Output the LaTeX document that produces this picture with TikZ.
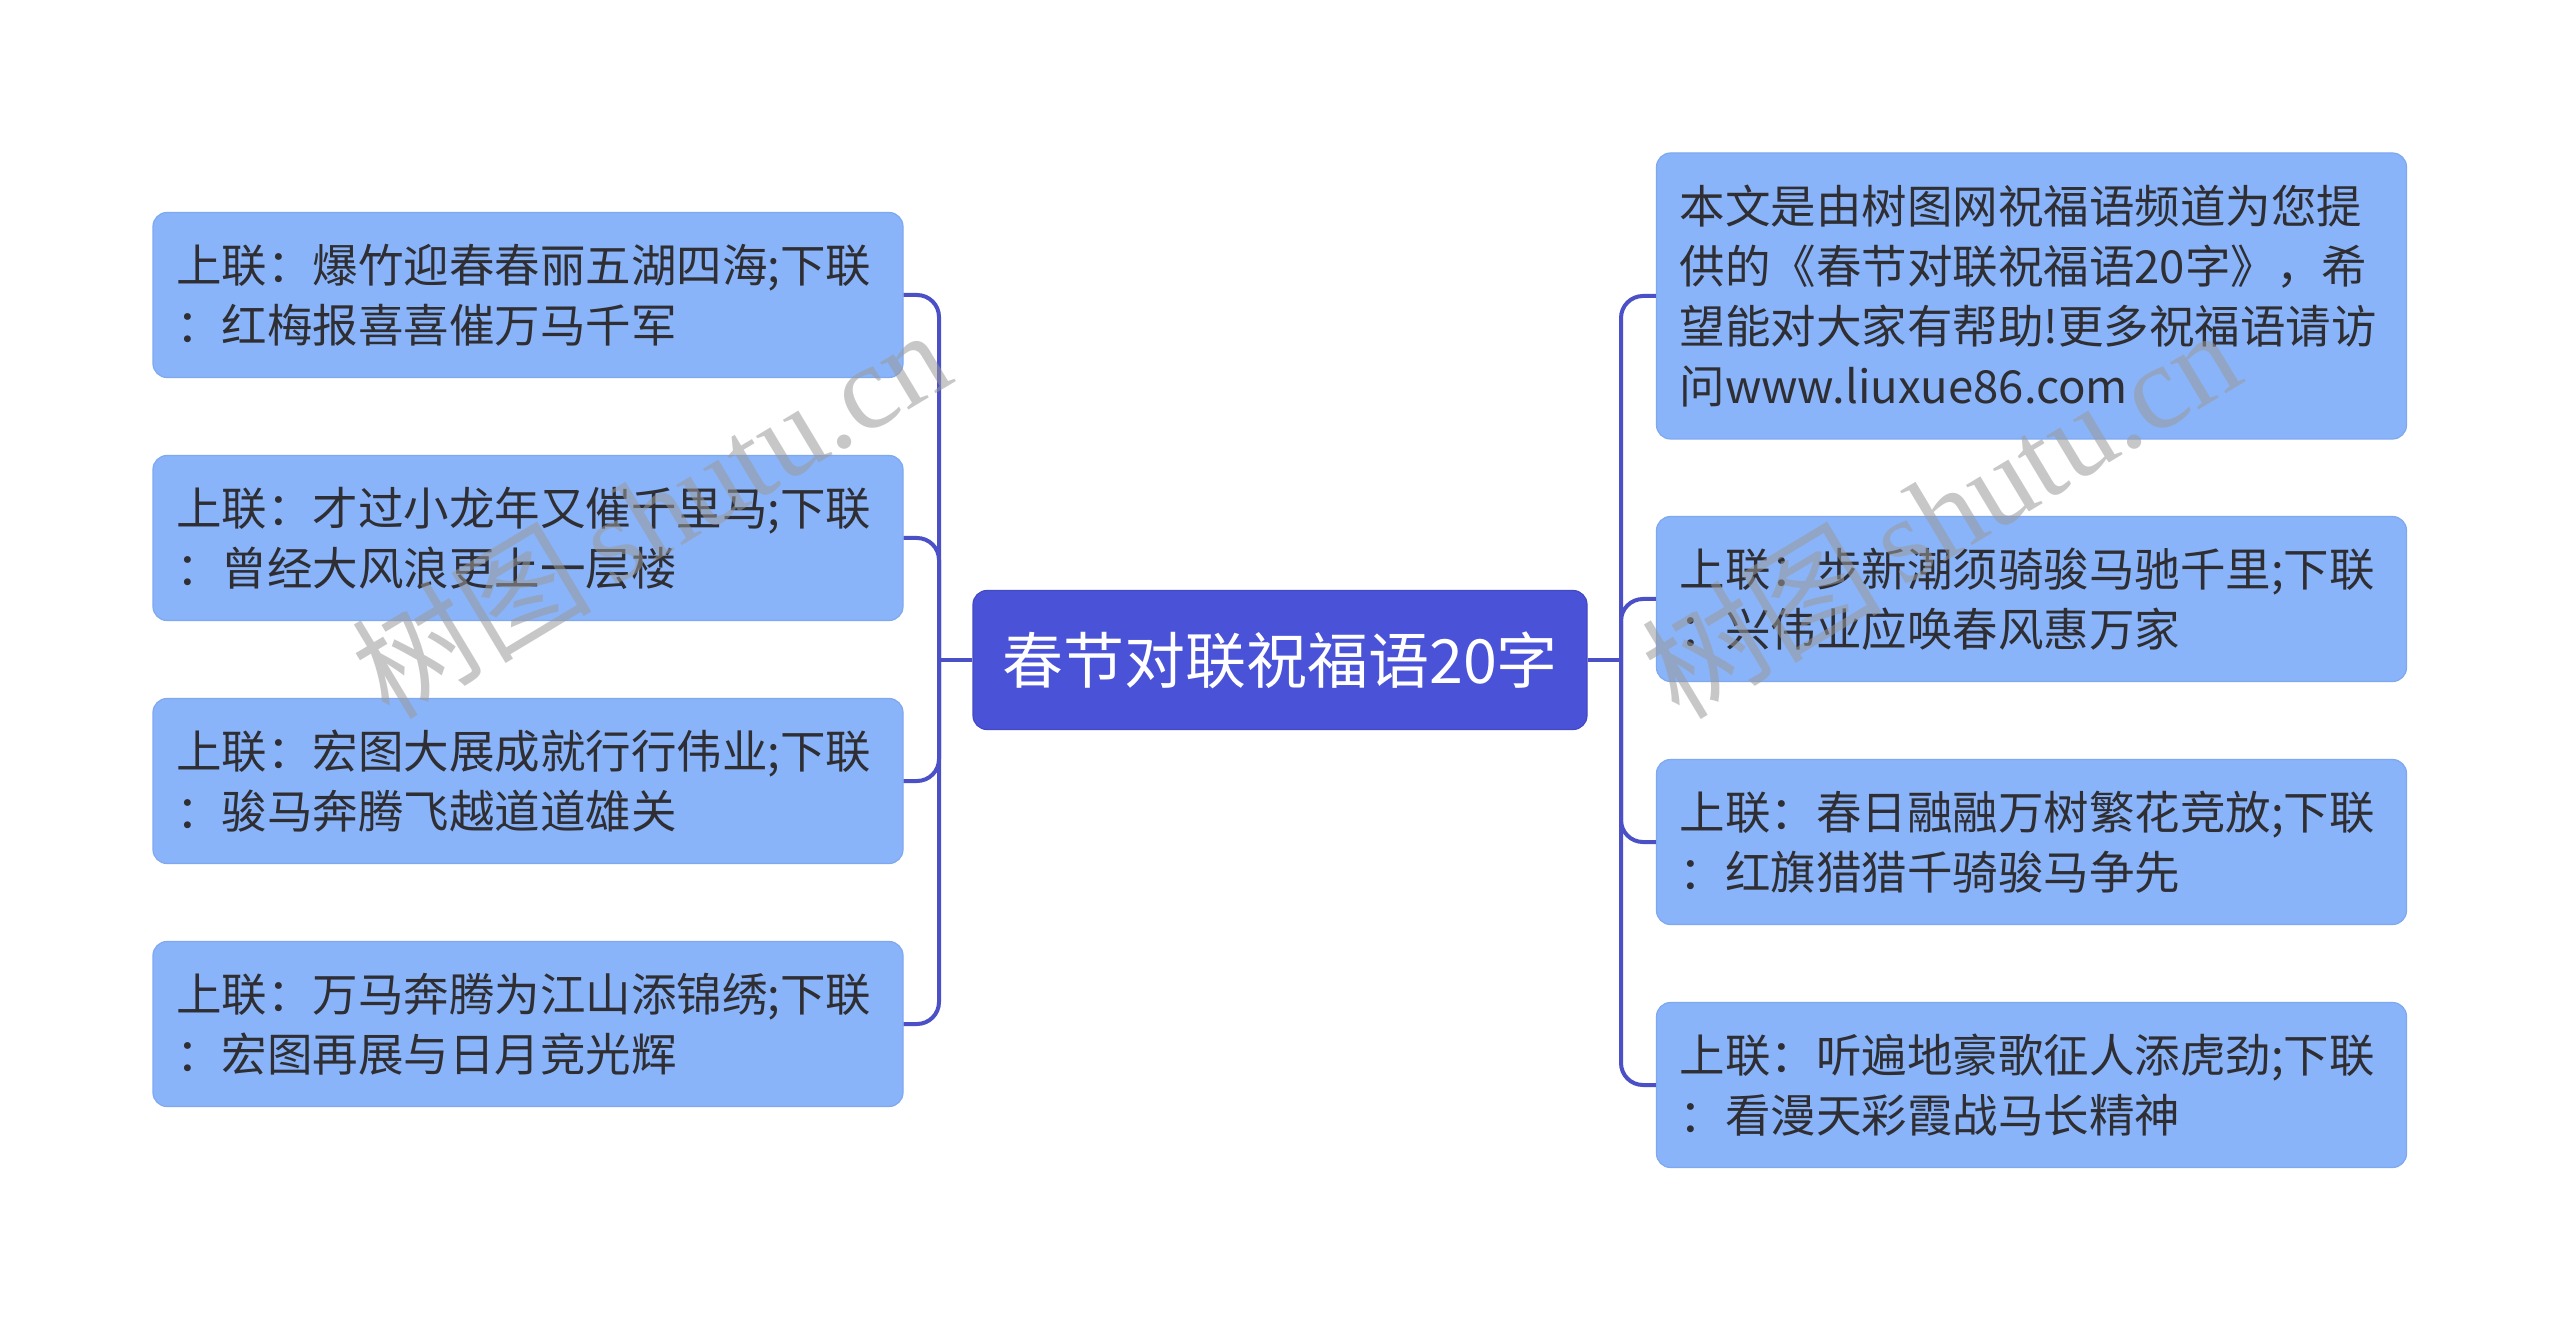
\documentclass[tikz,border=0pt]{standalone}
\usepackage{fontspec}
\setmainfont{Noto Sans CJK SC}
\newfontfamily\wmlatin{Liberation Serif}
\definecolor{leaffill}{HTML}{8AB4F9}
\definecolor{leafborder}{HTML}{7FA8F0}
\definecolor{rootfill}{HTML}{4A52D8}
\definecolor{connclr}{HTML}{4B50C6}
\definecolor{textclr}{HTML}{2E2E33}
\definecolor{wmclr}{HTML}{9A9A9A}
\tikzset{
  leaf/.style={draw=leafborder, line width=0.6pt, fill=leaffill, rounded corners=7pt,
    text width=352pt, inner xsep=11.5pt, inner ysep=0pt, minimum height=82.5pt,
    align=left, text=textclr, font=\fontsize{22.75pt}{30pt}\selectfont},
  rootbox/.style={fill=rootfill, draw=rootfill!90!black, line width=0.6pt, rounded corners=7pt,
    minimum width=307pt, minimum height=69.5pt, inner sep=0pt,
    text=white, font=\fontsize{30.5pt}{36pt}\selectfont},
  conn/.style={draw=connclr, line width=2pt, rounded corners=11pt},
  wm/.style={text=wmclr, text opacity=0.55, rotate=31, inner sep=0pt,
    font=\fontsize{60pt}{60pt}\selectfont}
}
\begin{document}
\begin{tikzpicture}[x=0.5pt,y=-0.5pt]
\useasboundingbox (0,0) rectangle (2560,1320);
\fill[white] (0,0) rectangle (2560,1320);

\node[rootbox] (root) at (1280,660) {春节对联祝福语20字};

\node[leaf] (L1) at (528,295) {上联：爆竹迎春春丽五湖四海;下联\\：红梅报喜喜催万马千军};
\node[leaf] (L2) at (528,538) {上联：才过小龙年又催千里马;下联\\：曾经大风浪更上一层楼};
\node[leaf] (L3) at (528,781) {上联：宏图大展成就行行伟业;下联\\：骏马奔腾飞越道道雄关};
\node[leaf] (L4) at (528,1024) {上联：万马奔腾为江山添锦绣;下联\\：宏图再展与日月竞光辉};

\node[leaf, minimum height=143pt] (R1) at (2031.5,296) {本文是由树图网祝福语频道为您提\\供的《春节对联祝福语20字》，希\\望能对大家有帮助!更多祝福语请访\\问www.liuxue86.com};
\node[leaf] (R2) at (2031.5,599) {上联：步新潮须骑骏马驰千里;下联\\：兴伟业应唤春风惠万家};
\node[leaf] (R3) at (2031.5,842) {上联：春日融融万树繁花竞放;下联\\：红旗猎猎千骑骏马争先};
\node[leaf] (R4) at (2031.5,1085) {上联：听遍地豪歌征人添虎劲;下联\\：看漫天彩霞战马长精神};

\coordinate (lj) at (939,660);
\coordinate (rj) at (1621,660);

\draw[conn, rounded corners=0pt] (root.west) -- (lj);
\draw[conn] (lj) |- (L1.east);
\draw[conn] (lj) |- (L2.east);
\draw[conn] (lj) |- (L3.east);
\draw[conn] (lj) |- (L4.east);

\draw[conn, rounded corners=0pt] (root.east) -- (rj);
\draw[conn] (rj) |- (R1.west);
\draw[conn] (rj) |- (R2.west);
\draw[conn] (rj) |- (R3.west);
\draw[conn] (rj) |- (R4.west);

\node[wm] (wm1) at (650,512) {树图\,{\wmlatin shutu.cn}};
\node[wm] (wm2) at (1940,512) {树图\,{\wmlatin shutu.cn}};
\end{tikzpicture}
\end{document}
